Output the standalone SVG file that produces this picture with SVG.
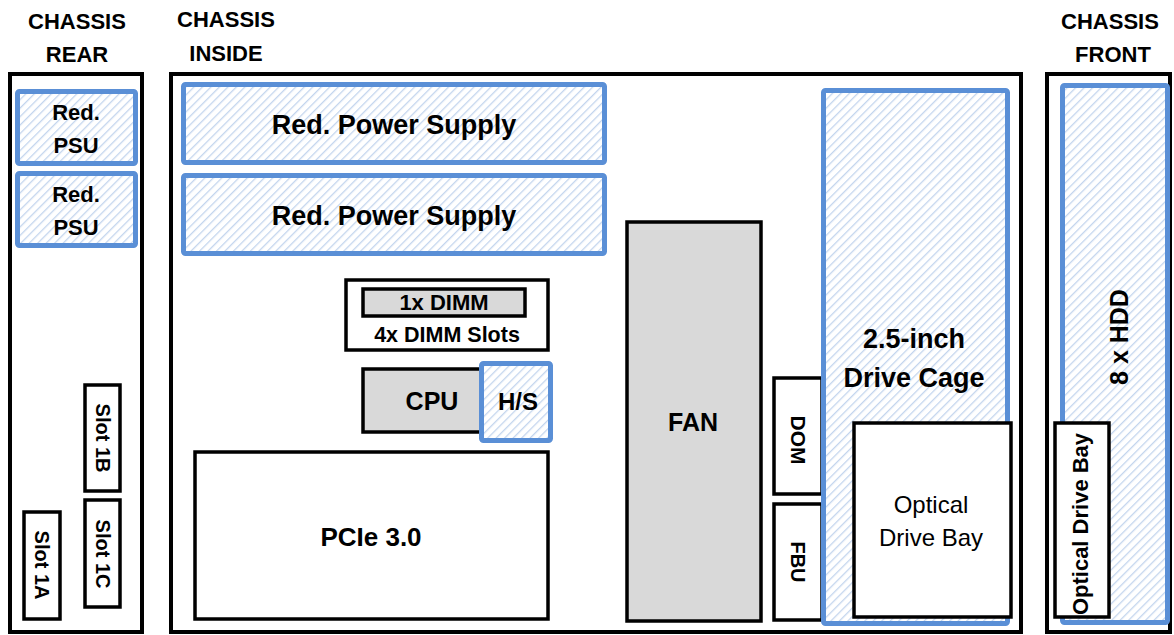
<svg xmlns="http://www.w3.org/2000/svg" width="1174" height="635" viewBox="0 0 1174 635">
  <defs>
    <pattern id="hatch" patternUnits="userSpaceOnUse" width="6" height="6" patternTransform="rotate(45)">
      <rect width="6" height="6" fill="#ffffff"/>
      <line x1="0" y1="0" x2="0" y2="6" stroke="#c3d5ee" stroke-width="2.6"/>
    </pattern>
    <style>
      .frame { fill: #ffffff; stroke: #000000; stroke-width: 4; }
      .box { fill: #ffffff; stroke: #000000; stroke-width: 3.5; }
      .grey { fill: #d9d9d9; stroke: #000000; stroke-width: 3.5; }
      .blue { fill: url(#hatch); stroke: #5a8fd6; stroke-width: 5; }
      text { font-family: "Liberation Sans", Arial, sans-serif; fill: #000000; text-anchor: middle; }
      .b { font-weight: bold; }
      .title { font-weight: bold; font-size: 22px; }
    </style>
  </defs>

  <g id="labels">
    <text class="title" x="77" y="29">CHASSIS</text>
    <text class="title" x="77" y="62">REAR</text>
    <text class="title" x="226" y="27">CHASSIS</text>
    <text class="title" x="226" y="61">INSIDE</text>
    <text class="title" x="1110" y="29">CHASSIS</text>
    <text class="title" x="1113" y="62">FRONT</text>
  </g>

  <g id="chassis-rear">
    <rect class="frame" x="10" y="74" width="132" height="558"/>
  </g>
  <g id="chassis-inside">
    <rect class="frame" x="171" y="74" width="850" height="558"/>
  </g>
  <g id="chassis-front">
    <rect class="frame" x="1047" y="74" width="123" height="558"/>
  </g>

  <g id="rear-psu-1">
    <rect class="blue" x="17.5" y="91.5" width="118" height="72" rx="2"/>
    <text class="b" x="76" y="120" font-size="22">Red.</text>
    <text class="b" x="76" y="153" font-size="22">PSU</text>
  </g>
  <g id="rear-psu-2">
    <rect class="blue" x="17.5" y="173.5" width="118" height="72" rx="2"/>
    <text class="b" x="76" y="202" font-size="22">Red.</text>
    <text class="b" x="76" y="235" font-size="22">PSU</text>
  </g>

  <g id="slot-1b">
    <rect class="box" x="85" y="385" width="35" height="106"/>
    <text class="b" font-size="20" transform="translate(102.5 438) rotate(90)" dominant-baseline="central">Slot 1B</text>
  </g>
  <g id="slot-1c">
    <rect class="box" x="85" y="500" width="35" height="107"/>
    <text class="b" font-size="20" transform="translate(102.5 554) rotate(90)" dominant-baseline="central">Slot 1C</text>
  </g>
  <g id="slot-1a">
    <rect class="box" x="24" y="512" width="36" height="107"/>
    <text class="b" font-size="20" transform="translate(42 565) rotate(90)" dominant-baseline="central">Slot 1A</text>
  </g>

  <g id="psu-1">
    <rect class="blue" x="183.5" y="84.5" width="421" height="78" rx="2"/>
    <text class="b" x="394" y="134" font-size="27">Red. Power Supply</text>
  </g>
  <g id="psu-2">
    <rect class="blue" x="183.5" y="175.5" width="421" height="78" rx="2"/>
    <text class="b" x="394" y="225" font-size="27">Red. Power Supply</text>
  </g>

  <g id="dimm-slots">
    <rect class="box" x="346" y="280" width="202" height="70"/>
    <rect class="grey" x="363" y="289" width="162" height="27"/>
    <text class="b" x="444" y="310" font-size="22">1x DIMM</text>
    <text class="b" x="447" y="342" font-size="21.5">4x DIMM Slots</text>
  </g>

  <g id="cpu">
    <rect class="grey" x="363" y="369" width="118" height="63"/>
    <text class="b" x="432" y="410" font-size="25">CPU</text>
  </g>
  <g id="heatsink">
    <rect class="blue" x="481.5" y="363.5" width="69" height="77" rx="2"/>
    <text class="b" x="518" y="410" font-size="24">H/S</text>
  </g>

  <g id="pcie">
    <rect class="box" x="195" y="452" width="353" height="167"/>
    <text class="b" x="371" y="546" font-size="26">PCIe 3.0</text>
  </g>

  <g id="fan">
    <rect class="grey" x="627" y="222" width="134" height="399"/>
    <text class="b" x="693" y="431" font-size="25">FAN</text>
  </g>

  <g id="dom">
    <rect class="box" x="774" y="378" width="48" height="116"/>
    <text class="b" font-size="21" transform="translate(798 440) rotate(90)" dominant-baseline="central">DOM</text>
  </g>
  <g id="fbu">
    <rect class="box" x="774" y="504" width="48" height="116"/>
    <text class="b" font-size="20" transform="translate(798 562) rotate(90)" dominant-baseline="central">FBU</text>
  </g>

  <g id="drive-cage">
    <rect class="blue" x="823.5" y="90.5" width="184" height="533" rx="2"/>
    <text class="b" x="914" y="348" font-size="27">2.5-inch</text>
    <text class="b" x="914" y="387" font-size="27">Drive Cage</text>
  </g>
  <g id="optical-inside">
    <rect class="box" x="854" y="423" width="157" height="194"/>
    <text x="931" y="513" font-size="24">Optical</text>
    <text x="931" y="546" font-size="24">Drive Bay</text>
  </g>

  <g id="hdd-front">
    <rect class="blue" x="1062.5" y="85.5" width="105" height="537" rx="2"/>
    <text class="b" font-size="25" transform="translate(1119 337) rotate(-90)" dominant-baseline="central">8 x HDD</text>
  </g>
  <g id="optical-front">
    <rect class="box" x="1055" y="423" width="54" height="194"/>
    <text class="b" font-size="22" transform="translate(1080 524) rotate(-90)" dominant-baseline="central">Optical Drive Bay</text>
  </g>

  <g id="connectors"/>
</svg>
